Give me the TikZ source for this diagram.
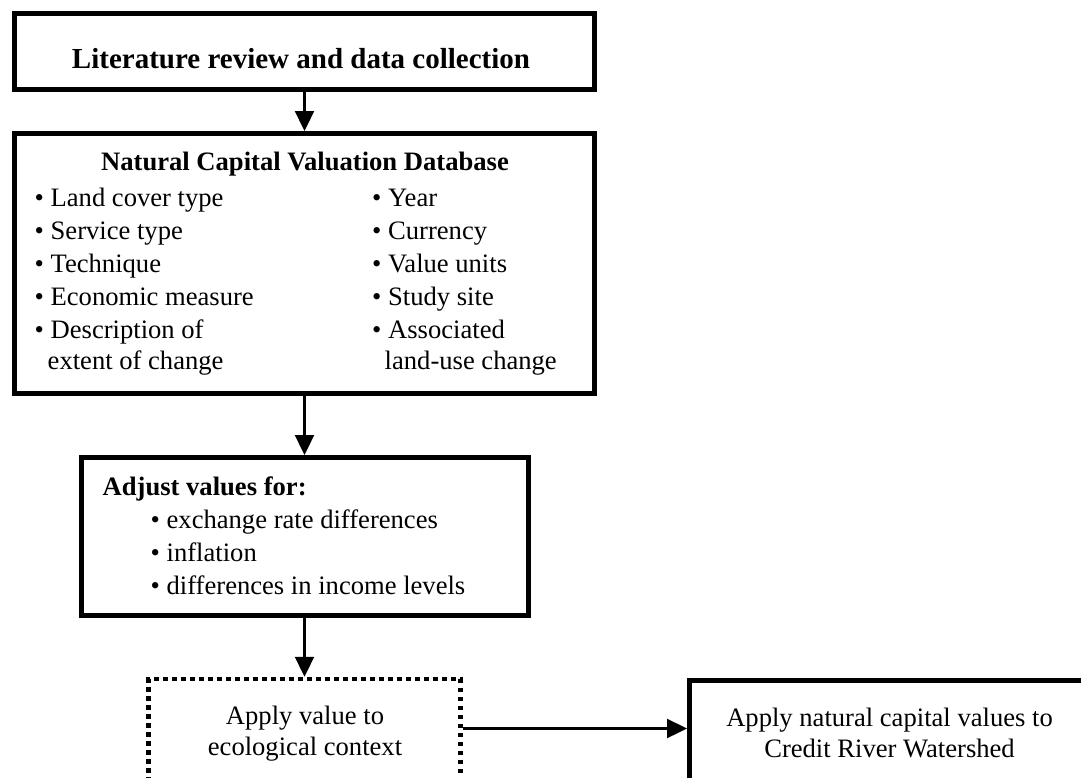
\documentclass[tikz,border=0pt]{standalone}
\usepackage{fontspec}
\setmainfont{Liberation Serif}
\usetikzlibrary{arrows.meta}
\begin{document}
\begin{tikzpicture}[x=1pt,y=-1pt,
  box/.style={draw, line width=5pt, inner sep=0pt},
  dotbox/.style={draw, line width=4.5pt, dash pattern=on 4.5pt off 4.5pt, inner sep=0pt},
  conn/.style={line width=2.3pt, -{Triangle[length=20pt,width=19pt]}},
  txt/.style={inner sep=0pt, font=\fontsize{26.6}{33}\selectfont},
  btxt/.style={inner sep=0pt, font=\bfseries\fontsize{26.6}{33}\selectfont},
  ttxt/.style={inner sep=0pt, font=\bfseries\fontsize{29}{35}\selectfont}]
\useasboundingbox (0,0) rectangle (1081,777);
\clip (0,0) rectangle (1081,777);
\fill[white] (0,0) rectangle (1081,777);

% boxes
\node[box, minimum width=580pt, minimum height=76pt] (lit) at (304.5,51.5) {};
\node[box, minimum width=580pt, minimum height=260pt] (db) at (304.5,263.5) {};
\node[box, minimum width=447pt, minimum height=158pt] (adj) at (304.5,536.5) {};
\node[dotbox, minimum width=312pt, minimum height=151pt] (eco) at (304.5,754.5) {};
\node[box, minimum width=410.5pt, minimum height=149.5pt] (crw) at (894.75,755.25) {};

% texts
\node[ttxt, anchor=base] (t1) at (301,68) {Literature review and data collection};

\node[btxt, anchor=base] (dbt) at (305,170) {Natural Capital Valuation Database};
\node[txt, anchor=base west] (l1) at (34.5,206) {• Land cover type};
\node[txt, anchor=base west] (l2) at (34.5,239) {• Service type};
\node[txt, anchor=base west] (l3) at (34.5,272) {• Technique};
\node[txt, anchor=base west] (l4) at (34.5,305) {• Economic measure};
\node[txt, anchor=base west] (l5) at (34.5,338) {• Description of};
\node[txt, anchor=base west] (l6) at (47.5,369) {extent of change};
\node[txt, anchor=base west] (r1) at (372,206) {• Year};
\node[txt, anchor=base west] (r2) at (372,239) {• Currency};
\node[txt, anchor=base west] (r3) at (372,272) {• Value units};
\node[txt, anchor=base west] (r4) at (372,305) {• Study site};
\node[txt, anchor=base west] (r5) at (372,338) {• Associated};
\node[txt, anchor=base west] (r6) at (384.5,369) {land-use change};

\node[btxt, anchor=base west] (adt) at (102.5,495) {Adjust values for:};
\node[txt, anchor=base west] (a1) at (150.5,528) {• exchange rate differences};
\node[txt, anchor=base west] (a2) at (150.5,561) {• inflation};
\node[txt, anchor=base west] (a3) at (150.5,594) {• differences in income levels};

\node[txt, anchor=base] (e1) at (305,724) {Apply value to};
\node[txt, anchor=base] (e2) at (305,755) {ecological context};
\node[txt, anchor=base] (c1) at (889.5,726) {Apply natural capital values to};
\node[txt, anchor=base] (c2) at (889.5,757) {Credit River Watershed};

% connectors
\coordinate (ay) at (0,728.5);
\draw[conn] (lit.south) -- (db.north);
\draw[conn] (db.south) -- (adj.north);
\draw[conn] (adj.south) -- (eco.north);
\draw[conn] (eco.east |- ay) -- (crw.west |- ay);
\end{tikzpicture}
\end{document}
